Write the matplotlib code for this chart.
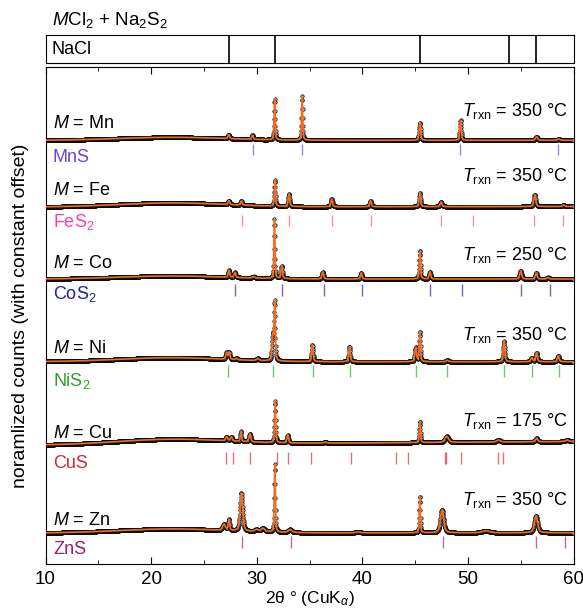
import numpy as np
import matplotlib.pyplot as plt
from matplotlib.ticker import MultipleLocator

plt.rcParams['font.family'] = ['Liberation Sans', 'DejaVu Sans']
plt.rcParams['mathtext.fontset'] = 'custom'
plt.rcParams['mathtext.rm'] = 'Liberation Sans'
plt.rcParams['mathtext.it'] = 'Liberation Sans:italic'
plt.rcParams['font.size'] = 13

# sample info, first entry = top of the stack
metals = ['Mn', 'Fe', 'Co', 'Ni', 'Cu', 'Zn']
phases = ['MnS', 'FeS$_2$', 'CoS$_2$', 'NiS$_2$', 'CuS', 'ZnS']
t_rxn = [350, 350, 250, 350, 175, 350]

# constant offset of each pattern (left / right end of the background) and amorphous hump
bg_left = [423.7, 357.0, 285.0, 202.3, 119.0, 31.0]
bg_right = [423.7, 357.5, 285.0, 202.3, 122.5, 31.3]
bg_hump = [3.0, 4.0, 3.0, 4.0, 5.0, 4.0]

# observed reflections: (2theta, height, fwhm)
peaks_mn = [(27.35, 4, 0.18), (29.6, 4, 0.18), (31.7, 41, 0.12), (34.3, 44, 0.12),
            (45.45, 18, 0.17), (49.3, 20, 0.16), (56.5, 3.5, 0.25), (58.6, 1.5, 0.25)]
peaks_fe = [(27.37, 4, 0.18), (28.55, 4, 0.18), (31.72, 26, 0.13), (33.05, 12.5, 0.17),
            (37.1, 7.5, 0.18), (40.78, 6, 0.18), (45.45, 14, 0.16), (47.45, 4.5, 0.2),
            (56.33, 12, 0.22), (59.05, 1.5, 0.25)]
peaks_co = [(27.37, 7, 0.16), (27.93, 5, 0.18), (29.7, 1.5, 0.3), (31.68, 59, 0.12),
            (32.37, 13, 0.17), (36.25, 7, 0.18), (39.9, 6, 0.18), (45.45, 28, 0.14),
            (46.4, 7, 0.18), (55.0, 8, 0.22), (56.47, 6, 0.2), (57.6, 1.5, 0.25)]
peaks_ni = [(27.15, 7, 0.18), (27.4, 7, 0.16), (28.1, 1.5, 0.2), (30.1, 2, 0.3),
            (31.52, 25, 0.18), (31.7, 58, 0.13), (35.27, 17, 0.17), (38.78, 15, 0.17),
            (45.05, 14, 0.18), (45.45, 30, 0.14), (48.05, 1.5, 0.25), (53.42, 21, 0.18),
            (56.05, 4, 0.2), (56.5, 9, 0.18), (58.55, 6, 0.2)]
peaks_cu = [(27.15, 4, 0.22), (27.6, 4, 0.22), (28.5, 10, 0.13), (29.35, 8, 0.2),
            (31.74, 42, 0.13), (32.93, 8, 0.18), (36.5, 1, 0.3), (45.45, 21, 0.13),
            (48.0, 6, 0.4), (52.9, 2, 0.4), (56.5, 3.5, 0.25), (59.4, 1.5, 0.4)]
peaks_zn = [(26.9, 6, 0.3), (27.37, 11, 0.16), (28.55, 38, 0.28), (30.0, 2, 0.4),
            (30.6, 3.5, 0.4), (31.72, 68, 0.12), (33.15, 3, 0.4), (39.6, 1, 0.5),
            (45.45, 37, 0.12), (47.55, 23, 0.36), (51.7, 2, 0.8), (56.45, 17, 0.36)]
peaks = [peaks_mn, peaks_fe, peaks_co, peaks_ni, peaks_cu, peaks_zn]

# reference reflections
ref_nacl = [27.37, 31.70, 45.45, 53.87, 56.48]
ref_mns = [29.63, 34.33, 49.27, 58.5]
ref_fes2 = [28.58, 33.07, 37.1, 40.8, 47.44, 50.47, 56.28, 59.0]
ref_cos2 = [27.95, 32.43, 36.38, 39.98, 46.45, 49.42, 55.04, 57.73]
ref_nis2 = [27.26, 31.58, 35.31, 38.82, 45.13, 48.06, 53.46, 56.06, 58.58]
ref_cus = [27.12, 27.75, 29.37, 31.9, 32.93, 35.15, 38.94, 43.2, 44.33,
           47.8, 47.96, 49.36, 52.84, 53.28]
ref_zns = [28.58, 33.26, 47.63, 56.47, 59.2]
refs = [ref_mns, ref_fes2, ref_cos2, ref_nis2, ref_cus, ref_zns]

# styling / layout
phase_colors = ['#6f3fe0', '#ff3fa8', '#1f1f96', '#2f9e2f', '#cc2a36', '#981f6e']
tick_gap = [3.5, 7.7, 5.0, 3.3, 7.0, 3.0]
label_lift = [12, 12, 11, 8.5, 6.5, 8]
phase_drop = [21.5, 20, 20, 24, 23, 21]
t_lift = [24, 26, 19, 22, 19, 28]


def pseudo_voigt(x, c, h, w, eta=0.5):
    d = (x - c) / (w / 2)
    return h * (eta / (1 + d ** 2) + (1 - eta) * np.exp(-np.log(2) * d ** 2))


tt = np.arange(10, 60.0001, 0.02)

W, H = 583, 608
fig = plt.figure(figsize=(W / 100, H / 100), dpi=100)
ax_top = fig.add_axes([45.5 / W, 1 - 63 / H, 528 / W, 28 / H])
ax = fig.add_axes([45.5 / W, 1 - 564 / H, 528 / W, 497 / H])

# top panel: NaCl stick pattern
ax_top.set_xlim(10, 60)
ax_top.set_ylim(0, 1)
for p in ref_nacl:
    ax_top.axvline(p, color='k', lw=1.2)
ax_top.set_xticks([])
ax_top.set_yticks([])
ax_top.text(0.012, 0.5, 'NaCl', transform=ax_top.transAxes, va='center', ha='left')
ax_top.text(0.012, 1.36, r'$M$Cl$_2$ + Na$_2$S$_2$', transform=ax_top.transAxes,
            va='baseline', ha='left', fontsize=13.5)

for i in range(len(metals)):
    bg = bg_left[i] + (bg_right[i] - bg_left[i]) * (tt - 10) / 50
    bg = bg + pseudo_voigt(tt, 22, bg_hump[i], 12, eta=0)
    y = bg.copy()
    for c, h, w in peaks[i]:
        y += pseudo_voigt(tt, c, h, w)
    ax.plot(tt, y, 'o', ms=2.4, mfc='#d5d5d5', mec='k', mew=0.55, zorder=2)
    ax.plot(tt, y, '-', color='#f26b21', lw=1.2, zorder=3)

    base = bg_left[i]
    top = base - tick_gap[i]
    ax.vlines(refs[i], top - 11.5, top, color=phase_colors[i], alpha=0.65, lw=1.0)
    ax.text(10.7, base + label_lift[i], r'$M$ = ' + metals[i], va='baseline', ha='left')
    ax.text(10.7, base - phase_drop[i], phases[i], color=phase_colors[i],
            va='baseline', ha='left')
    ax.text(59.5, base + t_lift[i], r'$T_{\rm rxn}$ = %d °C' % t_rxn[i],
            va='baseline', ha='right')

ax.set_xlim(10, 60)
ax.set_ylim(0, 497)
ax.set_yticks([])
ax.xaxis.set_major_locator(MultipleLocator(10))
ax.xaxis.set_minor_locator(MultipleLocator(5))
ax.tick_params(axis='x', which='both', direction='in', top=True, labelsize=13.5)
ax.tick_params(axis='x', which='major', length=5, pad=5)
ax.tick_params(axis='x', which='minor', length=3)
ax.set_xlabel(r'2θ ° (CuK$_α$)', labelpad=1, fontsize=12.5)
ax.set_ylabel('noramlized counts (with constant offset)', labelpad=12, fontsize=14)

fig.savefig('out.png', dpi=100)
